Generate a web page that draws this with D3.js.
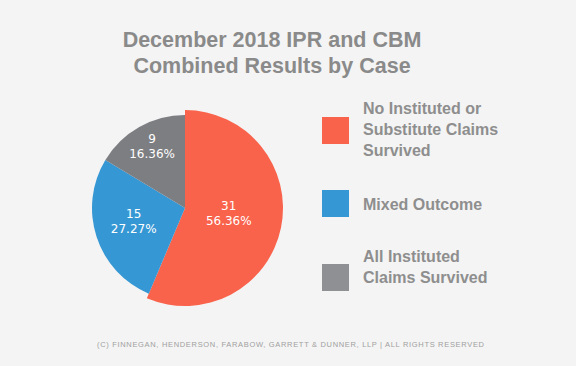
<!DOCTYPE html>
<html>
<head>
<meta charset="utf-8">
<script src="https://cdn.jsdelivr.net/npm/d3@7"></script>
<style>
  html, body { margin: 0; padding: 0; background: #f4f4f4; }
  svg { display: block; }
</style>
</head>
<body>
<div id="chart"></div>
<script>
const categories = ["No Instituted or Substitute Claims Survived", "Mixed Outcome", "All Instituted Claims Survived"];
const legendLines = [["No Instituted or", "Substitute Claims", "Survived"], ["Mixed Outcome"], ["All Instituted", "Claims Survived"]];
const counts = [31, 15, 9];
const percents = ["56.36%", "27.27%", "16.36%"];
const titleLines = ["December 2018 IPR and CBM", "Combined Results by Case"];
const footer = "(C) FINNEGAN, HENDERSON, FARABOW, GARRETT & DUNNER, LLP | ALL RIGHTS RESERVED";

const width = 576, height = 366;
const sliceColors = ["#f9624b", "#3597d4", "#7d7e82"];
const legendColors = ["#f9624b", "#3597d4", "#8f9094"];

const svg = d3.select("#chart").append("svg")
    .attr("width", width)
    .attr("height", height);

svg.append("rect").attr("width", width).attr("height", height).attr("fill", "#f4f4f4");

// title
svg.append("g").selectAll("text")
    .data(titleLines)
    .enter().append("text")
    .attr("x", 272)
    .attr("y", (d, i) => 47 + i * 26)
    .attr("text-anchor", "middle")
    .style("font-family", "'Liberation Sans', Arial, sans-serif")
    .style("font-weight", "bold")
    .style("font-size", "21.5px")
    .style("fill", "#8a8a8a")
    .text(d => d);

// pie
const cx = 185, cy = 208, r = 93;
const pie = d3.pie().sort(null).value(d => d);
const arcs = pie(counts);
const arc = d3.arc().innerRadius(0);

const g = svg.append("g").attr("transform", `translate(${cx},${cy})`);

g.selectAll("path")
    .data(arcs)
    .enter().append("path")
    .attr("d", (d, i) => arc.outerRadius(i === 0 ? r + 5 : r)(d))
    .style("fill", (d, i) => sliceColors[i]);

// labels sit at different depths in each slice
const labelRadius = [0.48, 0.58, 0.72];
const labels = g.selectAll(".lbl")
    .data(arcs)
    .enter().append("text")
    .attr("class", "lbl")
    .attr("transform", (d, i) => {
        const lr = r * labelRadius[i];
        const c = d3.arc().innerRadius(lr).outerRadius(lr).centroid(d);
        return `translate(${c[0]},${c[1] - 4})`;
    })
    .attr("text-anchor", "middle")
    .style("font-family", "'DejaVu Sans', Verdana, sans-serif")
    .style("font-size", "12px")
    .style("fill", "#ffffff");

labels.append("tspan").attr("x", 0).attr("dy", "-0.2em").text(d => d.data);
labels.append("tspan").attr("x", 0).attr("dy", "1.25em").text((d, i) => percents[i]);

// legend
const legendY = [117, 190, 264];
const legend = svg.append("g").selectAll("g")
    .data(categories)
    .enter().append("g")
    .attr("transform", (d, i) => `translate(322,${legendY[i]})`);

legend.append("rect")
    .attr("width", 27)
    .attr("height", 27)
    .style("fill", (d, i) => legendColors[i]);

const textOffsets = [-3, 20, -2];
legend.append("text")
    .style("font-family", "'Liberation Sans', Arial, sans-serif")
    .style("font-weight", "bold")
    .style("font-size", "16px")
    .style("fill", "#8e8e8e")
    .each(function(d, i) {
        d3.select(this).selectAll("tspan")
            .data(legendLines[i])
            .enter().append("tspan")
            .attr("x", 41)
            .attr("y", (t, j) => textOffsets[i] + j * 21)
            .text(t => t);
    });

// footer
svg.append("text")
    .attr("x", 97)
    .attr("y", 347)
    .attr("textLength", 387)
    .attr("lengthAdjust", "spacing")
    .style("font-family", "'Liberation Sans', Arial, sans-serif")
    .style("font-size", "7.5px")
    .style("fill", "#a0a0a0")
    .text(footer);
</script>
</body>
</html>
